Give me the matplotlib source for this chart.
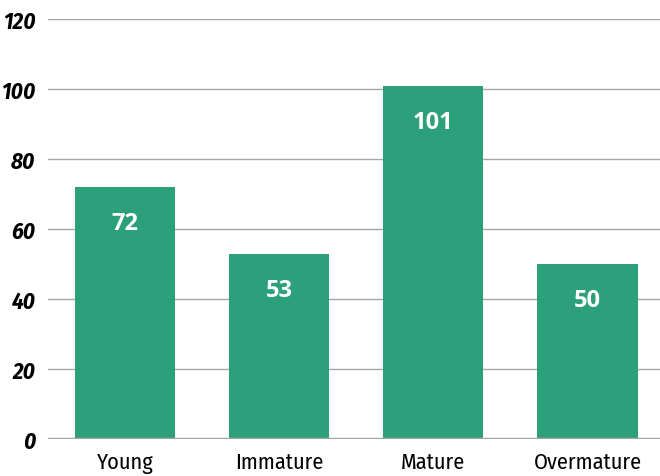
import os
import matplotlib
matplotlib.use("Agg")
import matplotlib.pyplot as plt
from matplotlib import font_manager as fm

categories = ["Young", "Immature", "Mature", "Overmature"]
counts = [72, 53, 101, 50]
yticks = [0, 20, 40, 60, 80, 100, 120]

bar_color = "#2ca07a"
grid_color = "#a6a6a6"

files = {os.path.basename(f.fname): f.fname for f in fm.fontManager.ttflist}


def pick(size, *names):
    # first font file found wins
    for n in names:
        if n in files:
            return fm.FontProperties(fname=files[n], size=size)
    return fm.FontProperties(family="DejaVu Sans", size=size)


ytick_font = pick(16.5, "FiraSansCondensed-BoldItalic.ttf", "FiraSans-BoldItalic.ttf")
xtick_font = pick(16, "FiraSansCondensed-Regular.ttf", "FiraSans-Regular.ttf")
value_font = pick(17, "OpenSans-Bold.ttf", "NotoSans-Bold.ttf", "FiraSans-SemiBold.ttf")

fig = plt.figure(figsize=(6.6, 4.77), dpi=100)
ax = fig.add_axes([48 / 660, 37 / 477, 612 / 660, 420 / 477])

x = list(range(len(categories)))
ax.bar(x, counts, width=0.65, color=bar_color, zorder=3)

for xi, v in zip(x, counts):
    ax.text(xi, v - 10.3, str(v), ha="center", va="center", color="white",
            fontproperties=value_font, zorder=4)

ax.set_xlim(-0.5, 3.47)
ax.set_ylim(0, 120)
ax.set_yticks(yticks)
ax.set_yticklabels([str(t) for t in yticks], fontproperties=ytick_font)
ax.set_xticks(x)
ax.set_xticklabels(categories, fontproperties=xtick_font)

for t in yticks[1:]:
    ax.axhline(t, color=grid_color, lw=1, zorder=1)
ax.axhline(0, color=grid_color, lw=2.5, zorder=5)

for s in ax.spines.values():
    s.set_visible(False)
ax.tick_params(axis="both", length=0)
ax.tick_params(axis="y", pad=9)
ax.tick_params(axis="x", pad=9)

fig.savefig("out.png", dpi=100)
